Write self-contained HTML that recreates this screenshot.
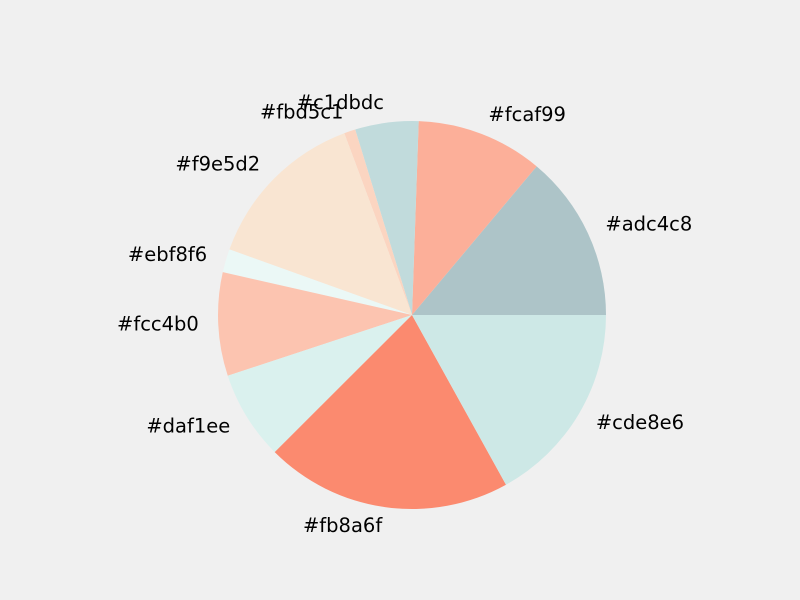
<!DOCTYPE html>
<html><head><meta charset="utf-8"><style>
html,body{margin:0;padding:0;background:#f0f0f0;}
svg{display:block;font-family:"DejaVu Sans","Liberation Sans",sans-serif;}
</style></head><body>
<svg id="chart" width="800" height="600" viewBox="0 0 800 600"></svg>
<script>
const labels = ["#adc4c8","#fcaf99","#c1dbdc","#fbd5c1","#f9e5d2","#ebf8f6","#fcc4b0","#daf1ee","#fb8a6f","#cde8e6"];
const values = [50, 38, 19, 3.4, 49.8, 7, 31, 26.7, 74, 61];
const colors = ["#adc4c8","#fcaf99","#c1dbdc","#fbd5c1","#f9e5d2","#ebf8f6","#fcc4b0","#daf1ee","#fb8a6f","#cde8e6"];

const svg = document.getElementById('chart');
const NS = 'http://www.w3.org/2000/svg';
const cx = 412, cy = 315, r = 194;
const total = values.reduce((a,b)=>a+b,0);
function pt(angDeg, rad){const a=angDeg*Math.PI/180;return [cx+rad*Math.cos(a), cy-rad*Math.sin(a)];}
let start = 0;
values.forEach((v,i)=>{
  const sweep = v/total*360;
  const end = start+sweep;
  const [x1,y1]=pt(start,r), [x2,y2]=pt(end,r);
  const large = sweep>180?1:0;
  const p=document.createElementNS(NS,'path');
  p.setAttribute('d',`M${cx},${cy} L${x1},${y1} A${r},${r} 0 ${large} 0 ${x2},${y2} Z`);
  p.setAttribute('fill',colors[i]);
  
  
  svg.appendChild(p);
  const mid=(start+end)/2;
  const [lx,ly]=pt(mid,r*1.1);
  const t=document.createElementNS(NS,'text');
  t.setAttribute('x',lx);
  t.setAttribute('y',ly-1);
  t.setAttribute('font-size','19.5');
  t.setAttribute('fill','#000');
  t.setAttribute('dominant-baseline','central');
  t.setAttribute('text-anchor', Math.cos(mid*Math.PI/180)>=0?'start':'end');
  t.textContent=labels[i];
  
  
  svg.appendChild(t);
  start=end;
});
</script>
</body></html>
